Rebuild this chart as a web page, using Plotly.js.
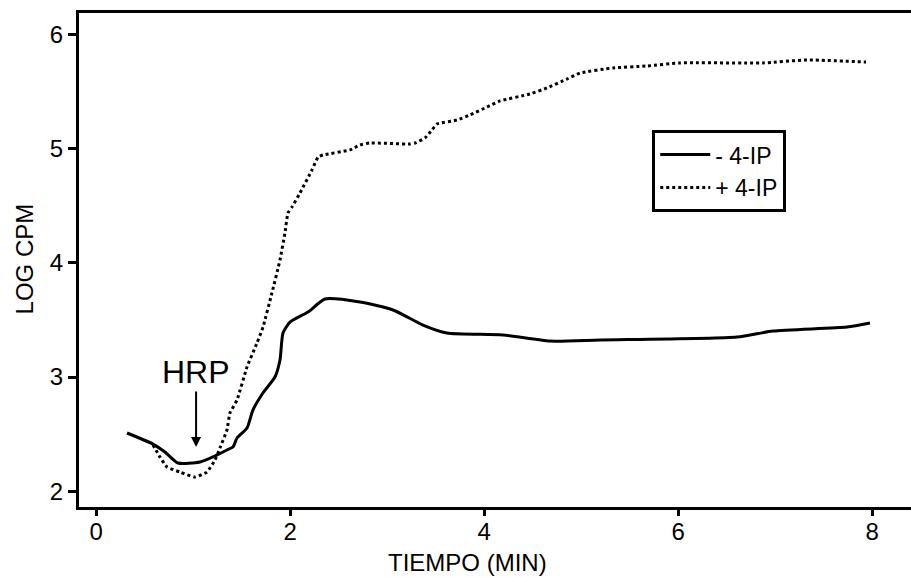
<!DOCTYPE html>
<html>
<head>
<meta charset="utf-8">
<script src="https://cdn.plot.ly/plotly-3.0.1.min.js"></script>
<style>html,body{margin:0;padding:0;background:#fff;}#chart{width:911px;height:577px;}</style>
</head>
<body>
<div id="chart"></div>
<script>
// - 4-IP (solid)
const timeMinus = [0.318,0.586,0.709,0.843,1.070,1.204,1.348,1.410,1.452,1.555,1.616,1.719,1.843,1.895,1.926,1.998,2.184,2.359,2.720,3.060,3.369,3.616,4.194,4.678,5.194,6.606,6.977,7.740,7.977];
const logMinus  = [2.51,2.413,2.343,2.247,2.256,2.300,2.361,2.387,2.466,2.553,2.711,2.860,3.000,3.149,3.385,3.481,3.569,3.683,3.657,3.587,3.455,3.385,3.368,3.315,3.324,3.350,3.403,3.438,3.473];
// + 4-IP (dotted)
const timePlus = [0.586,0.658,0.730,0.864,1.018,1.142,1.225,1.276,1.348,1.379,1.452,1.555,1.658,1.720,1.812,1.895,1.946,1.977,2.019,2.101,2.225,2.287,2.338,2.617,2.720,2.823,3.235,3.287,3.390,3.462,3.513,3.720,3.853,4.029,4.163,4.472,4.647,4.853,4.988,5.328,5.678,6.018,6.874,7.327,7.936];
const logPlus  = [2.405,2.299,2.212,2.168,2.124,2.168,2.273,2.378,2.536,2.685,2.799,3.088,3.298,3.438,3.736,4.025,4.261,4.436,4.489,4.611,4.813,4.926,4.944,4.988,5.032,5.049,5.040,5.049,5.093,5.163,5.215,5.250,5.294,5.364,5.417,5.478,5.531,5.609,5.662,5.706,5.723,5.750,5.750,5.776,5.758];
const seriesNames = ["- 4-IP", "+ 4-IP"];
const xTicks = [0,2,4,6,8];
const yTicks = [2,3,4,5,6];
const xTitle = "TIEMPO (MIN)";
const yTitle = "LOG CPM";

const font = "Arial, 'Liberation Sans', sans-serif";
const traces = [
  {x: timeMinus, y: logMinus, name: seriesNames[0], mode: "lines",
   line: {color: "#000", width: 3, shape: "spline", smoothing: 0.6}},
  {x: timePlus, y: logPlus, name: seriesNames[1], mode: "lines",
   line: {color: "#000", width: 3, dash: "dot", shape: "spline", smoothing: 0.4}}
];
const layout = {
  width: 911, height: 577,
  margin: {l: 79, r: 0, t: 13, b: 70},
  paper_bgcolor: "#fff", plot_bgcolor: "#fff",
  font: {family: font, color: "#000", size: 23},
  showlegend: true,
  legend: {x: 0.689, y: 0.763, xanchor: "left", yanchor: "top",
    bordercolor: "#000", borderwidth: 3, bgcolor: "#fff", itemwidth: 50,
    font: {family: font, size: 23, color: "#000"}, tracegroupgap: 0},
  xaxis: {range: [-0.177, 8.40], tickvals: xTicks, ticktext: xTicks.map(String),
    showgrid: false, zeroline: false, showline: true, linecolor: "#000", linewidth: 3,
    mirror: true, ticks: "outside", ticklen: 6, tickwidth: 3, tickcolor: "#000",
    ticklabelstandoff: -5,
    tickfont: {size: 24, family: font}},
  yaxis: {range: [1.862, 6.187], tickvals: yTicks, ticktext: yTicks.map(String),
    showgrid: false, zeroline: false, showline: true, linecolor: "#000", linewidth: 3,
    mirror: false, ticks: "outside", ticklen: 8, tickwidth: 3, tickcolor: "#000",
    tickfont: {size: 24, family: font}},
  annotations: [
    {x: 1.03, y: 2.387, xref: "x", yref: "y", ax: 1.03, ay: 3.044, axref: "x", ayref: "y",
     text: "HRP", showarrow: true, arrowhead: 2, arrowsize: 1, arrowwidth: 2, arrowcolor: "#000",
     font: {size: 32, family: font, color: "#000"}},
    {x: 0.4675, y: -0.113, xref: "paper", yref: "paper", xanchor: "center", yanchor: "middle",
     text: xTitle, showarrow: false, font: {size: 24, family: font, color: "#000"}},
    {x: -0.065, y: 0.503, xref: "paper", yref: "paper", xanchor: "center", yanchor: "middle",
     text: yTitle, textangle: -90, showarrow: false, font: {size: 24, family: font, color: "#000"}}
  ]
};
Plotly.newPlot("chart", traces, layout, {displayModeBar: false, staticPlot: true});
</script>
</body>
</html>
